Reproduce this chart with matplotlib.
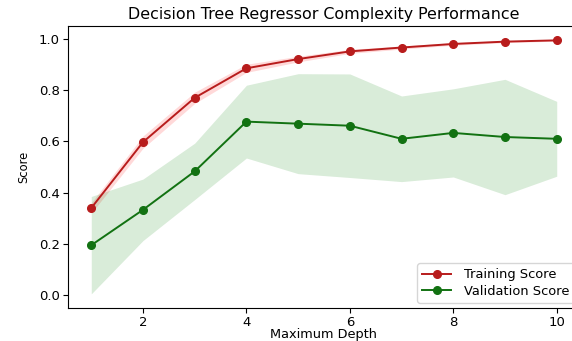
import numpy as np
import matplotlib
matplotlib.use('Agg')
import matplotlib.pyplot as plt

max_depth = [1, 2, 3, 4, 5, 6, 7, 8, 9, 10]

train_mean = [0.340, 0.597, 0.770, 0.885, 0.921, 0.951, 0.966, 0.980, 0.989, 0.994]
train_std = [0.020, 0.024, 0.022, 0.016, 0.011, 0.008, 0.006, 0.005, 0.004, 0.003]

test_mean = [0.195, 0.333, 0.483, 0.677, 0.669, 0.661, 0.610, 0.633, 0.617, 0.610]
test_std = [0.190, 0.120, 0.110, 0.142, 0.195, 0.202, 0.167, 0.172, 0.225, 0.146]


def plot_complexity(depth, tr_mean, tr_std, te_mean, te_std):
    depth = np.array(depth)
    tr_mean, tr_std = np.array(tr_mean), np.array(tr_std)
    te_mean, te_std = np.array(te_mean), np.array(te_std)

    fig = plt.figure(figsize=(5.72, 3.41), dpi=100)
    ax = fig.add_axes([68 / 572, 33 / 341, 512 / 572, 282 / 341])

    ax.plot(depth, tr_mean, 'o-', color='#b81c1c', markersize=5.5,
            linewidth=1.4, label='Training Score')
    ax.plot(depth, te_mean, 'o-', color='#127212', markersize=5.5,
            linewidth=1.4, label='Validation Score')
    ax.fill_between(depth, tr_mean - tr_std, tr_mean + tr_std, alpha=0.15, color='r', linewidth=0)
    ax.fill_between(depth, te_mean - te_std, te_mean + te_std, alpha=0.15, color='g', linewidth=0)

    ax.set_title('Decision Tree Regressor Complexity Performance', fontsize=11.4, pad=5)
    ax.legend(loc='lower right', fontsize=9.4, handlelength=2.2, handletextpad=1.0,
              labelspacing=0.25, borderaxespad=0.4)
    ax.set_xlabel('Maximum Depth', fontsize=9.3, labelpad=-1)
    ax.set_ylabel('Score', fontsize=8.3, labelpad=6)
    ax.set_ylim([-0.05, 1.05])
    ax.set_xticks([2, 4, 6, 8, 10])
    ax.tick_params(labelsize=9.5, length=3.5, pad=2.5)

    fig.savefig('out.png', dpi=100)


if __name__ == "__main__":
    plot_complexity(max_depth, train_mean, train_std, test_mean, test_std)
